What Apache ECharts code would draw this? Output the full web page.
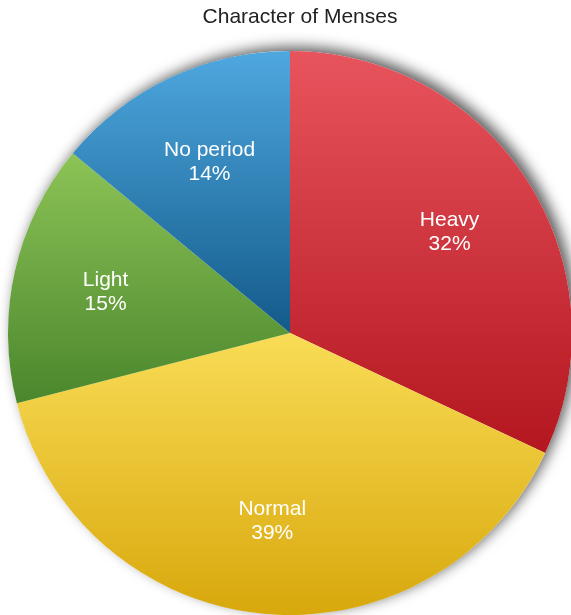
<!DOCTYPE html>
<html>
<head>
<meta charset="utf-8">
<script src="https://cdn.jsdelivr.net/npm/echarts@6/dist/echarts.min.js"></script>
<style>
  html, body { margin: 0; padding: 0; background: #ffffff; }
  #chart { width: 571px; height: 615px; }
</style>
</head>
<body>
<div id="chart"></div>
<script>
// Share of each menstrual character, clockwise from 12 o'clock
const categories = ['Heavy', 'Normal', 'Light', 'No period'];
const shares = [32, 39, 15, 14];

// Slice fills: lighter at the top, deeper toward the bottom
const topColors = ['#e8545d', '#f9dc56', '#8dc457', '#4ea8df'];
const bottomColors = ['#b3161f', '#d8a80c', '#4a862c', '#135a8a'];

const center = [290, 333];
const outerRadius = 282;

const chart = echarts.init(document.getElementById('chart'), null, { renderer: 'canvas' });

const slices = categories.map((name, i) => ({
  name,
  value: shares[i],
  itemStyle: {
    color: new echarts.graphic.LinearGradient(0, 0, 0, 1, [
      { offset: 0, color: topColors[i] },
      { offset: 1, color: bottomColors[i] }
    ])
  }
}));

chart.setOption({
  backgroundColor: '#ffffff',
  animation: false,
  title: {
    text: 'Character of Menses',
    left: 295,
    textAlign: 'center',
    top: 2,
    textStyle: {
      fontFamily: 'Liberation Sans, Arial, sans-serif',
      fontSize: 21,
      fontWeight: 'normal',
      color: '#222222'
    }
  },
  series: [
    // Backing disc that casts the soft drop shadow around the whole pie
    {
      type: 'pie',
      silent: true,
      z: 1,
      center,
      radius: [0, outerRadius],
      startAngle: 90,
      label: { show: false },
      labelLine: { show: false },
      itemStyle: {
        color: '#ffffff',
        shadowColor: 'rgba(0,0,0,0.65)',
        shadowBlur: 14,
        shadowOffsetX: 5,
        shadowOffsetY: -4
      },
      data: [{ value: 1 }]
    },
    // The slices themselves
    {
      type: 'pie',
      z: 2,
      center,
      radius: [0, outerRadius],
      startAngle: 90,
      clockwise: true,
      label: { show: false },
      labelLine: { show: false },
      emphasis: { disabled: true },
      itemStyle: { borderWidth: 0 },
      data: slices
    },
    // Transparent ring that places the category / percent labels
    {
      type: 'pie',
      silent: true,
      z: 3,
      center,
      radius: [90, outerRadius],
      startAngle: 90,
      clockwise: true,
      itemStyle: { color: 'rgba(0,0,0,0)' },
      labelLine: { show: false },
      label: {
        show: true,
        position: 'inside',
        formatter: p => p.name + '\n' + p.value + '%',
        color: '#ffffff',
        fontFamily: 'Liberation Sans, Arial, sans-serif',
        fontSize: 21,
        lineHeight: 24,
        align: 'center'
      },
      data: categories.map((name, i) => ({ name, value: shares[i] }))
    }
  ]
});
</script>
</body>
</html>
